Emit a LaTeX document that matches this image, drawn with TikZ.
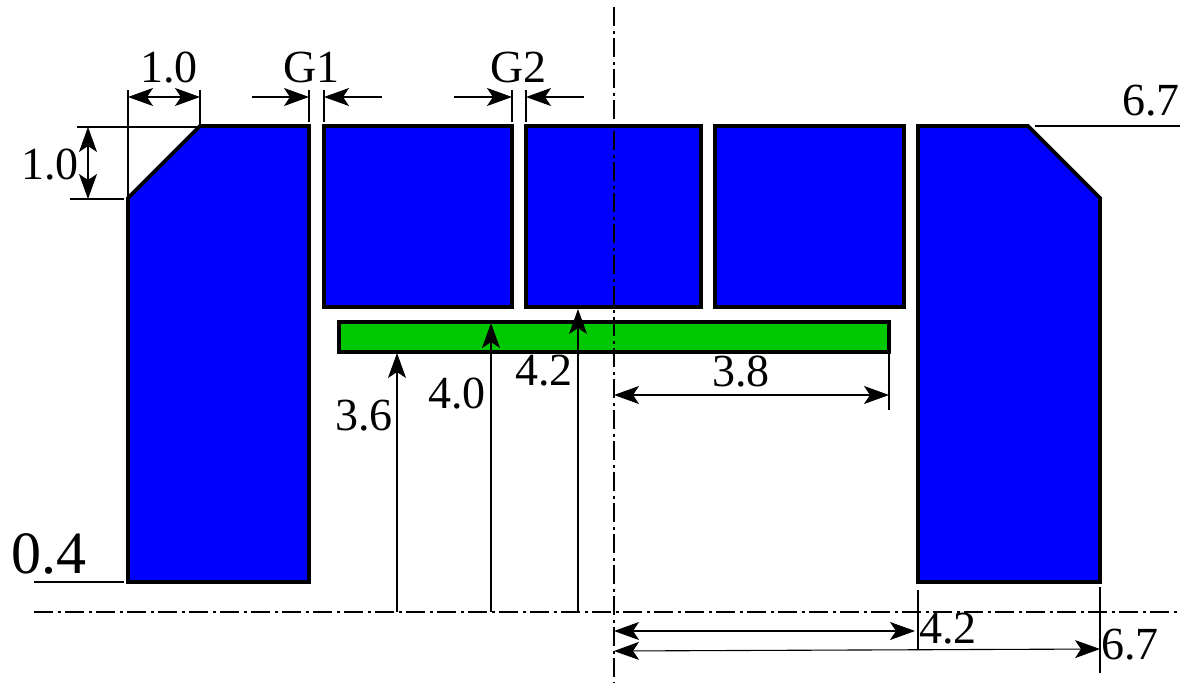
\documentclass[tikz,border=0pt]{standalone}
\usepackage{fontspec}
\setmainfont{Liberation Serif}
\usetikzlibrary{arrows.meta}
\definecolor{blockblue}{RGB}{0,0,255}
\definecolor{blockgreen}{RGB}{0,200,0}
\tikzset{
  block/.style={draw=black,line width=3.6pt,fill=blockblue,miter limit=10},
  strip/.style={draw=black,line width=3.6pt,fill=blockgreen},
  thin line/.style={draw=black,line width=1.1pt},
  centre line/.style={draw=black,line width=1.1pt,dash pattern=on 19pt off 5pt on 2.5pt off 4.5pt},
  dim both/.style={thin line,{Stealth[length=25pt,width=18pt,inset=6pt]}-{Stealth[length=25pt,width=18pt,inset=6pt]}},
  dim end/.style={thin line,-{Stealth[length=25pt,width=18pt,inset=6pt]}},
  label/.style={anchor=base west,inner sep=0pt,outer sep=0pt,font=\fontsize{46}{46}\selectfont},
  biglabel/.style={anchor=base west,inner sep=0pt,outer sep=0pt,font=\fontsize{60}{60}\selectfont}
}
\begin{document}
\begin{tikzpicture}[x=1pt,y=-1pt]
\useasboundingbox (0,0) rectangle (1180,683);
% blocks
\draw[block] (128,198) -- (200,126) -- (309,126) -- (309,582) -- (128,582) -- cycle;
\draw[block] (324,126) rectangle (512,307);
\draw[block] (526,126) rectangle (701,307);
\draw[block] (715,126) rectangle (904,307);
\draw[block] (918,126) -- (1028,126) -- (1100,198) -- (1100,582) -- (918,582) -- cycle;
\draw[strip] (339,322) rectangle (889,352);
% centre lines
\coordinate (ct) at (614,7); \coordinate (cb) at (614,683);
\coordinate (hl) at (34,612); \coordinate (hr) at (1180,612);
\draw[centre line] (ct) -- (cb);
\draw[centre line] (hl) -- (hr);
% extension lines, top left
\coordinate (e1a) at (128,90); \coordinate (e1b) at (128,197);
\coordinate (e2a) at (200,90); \coordinate (e2b) at (200,124);
\coordinate (e3a) at (77,127); \coordinate (e3b) at (200,127);
\coordinate (e4a) at (70,199); \coordinate (e4b) at (124,199);
\draw[thin line] (e1a) -- (e1b);
\draw[thin line] (e2a) -- (e2b);
\draw[thin line] (e3a) -- (e3b);
\draw[thin line] (e4a) -- (e4b);
\coordinate (d1a) at (128,97); \coordinate (d1b) at (200,97);
\draw[dim both] (d1a) -- (d1b);
\coordinate (d2a) at (88,127); \coordinate (d2b) at (88,199);
\draw[dim both] (d2a) -- (d2b);
% gaps
\coordinate (g1a) at (309,90); \coordinate (g1b) at (309,122);
\coordinate (g1c) at (324,90); \coordinate (g1d) at (324,122);
\coordinate (g2a) at (512,90); \coordinate (g2b) at (512,122);
\coordinate (g2c) at (526,90); \coordinate (g2d) at (526,122);
\draw[thin line] (g1a) -- (g1b);
\draw[thin line] (g1c) -- (g1d);
\draw[thin line] (g2a) -- (g2b);
\draw[thin line] (g2c) -- (g2d);
\coordinate (a1) at (252,97); \coordinate (a1t) at (309,97);
\coordinate (a2) at (382,97); \coordinate (a2t) at (324,97);
\coordinate (a3) at (454,97); \coordinate (a3t) at (512,97);
\coordinate (a4) at (584,97); \coordinate (a4t) at (526,97);
\draw[dim end] (a1) -- (a1t);
\draw[dim end] (a2) -- (a2t);
\draw[dim end] (a3) -- (a3t);
\draw[dim end] (a4) -- (a4t);
% right top, left bottom leaders
\coordinate (t1) at (1035,126); \coordinate (t2) at (1180,126);
\coordinate (b1) at (34,582); \coordinate (b2) at (124,582);
\draw[thin line] (t1) -- (t2);
\draw[thin line] (b1) -- (b2);
% vertical dimensions
\coordinate (v1a) at (397,612); \coordinate (v1b) at (397,353);
\coordinate (v2a) at (491,612); \coordinate (v2b) at (491,323);
\coordinate (v3a) at (578,612); \coordinate (v3b) at (578,309);
\draw[dim end] (v1a) -- (v1b);
\draw[dim end] (v2a) -- (v2b);
\draw[dim end] (v3a) -- (v3b);
% 3.8
\coordinate (x1) at (889,352); \coordinate (x2) at (889,410);
\draw[thin line] (x1) -- (x2);
\coordinate (w1) at (614,395); \coordinate (w2) at (889,395);
\draw[dim both] (w1) -- (w2);
% bottom dimensions
\coordinate (y1) at (918,590); \coordinate (y2) at (918,650);
\coordinate (y3) at (1100,587); \coordinate (y4) at (1100,673);
\draw[thin line] (y1) -- (y2);
\draw[thin line] (y3) -- (y4);
\coordinate (z1) at (614,631); \coordinate (z2) at (915,631);
\coordinate (z3) at (614,651); \coordinate (z4) at (1100,649);
\draw[dim both] (z1) -- (z2);
\draw[dim both] (z3) -- (z4);
% labels
\node[label] (l1) at (140,82) {1.0};
\node[label] (l2) at (283,82) {G1};
\node[label] (l3) at (490,82) {G2};
\node[label] (l4) at (21,179) {1.0};
\node[label] (l5) at (1122,115) {6.7};
\node[biglabel] (l6) at (12,573) {0.4};
\node[label] (l7) at (335,430) {3.6};
\node[label] (l8) at (428,408) {4.0};
\node[label] (l9) at (515,385) {4.2};
\node[label] (l10) at (712,386) {3.8};
\node[label] (l11) at (919,643) {4.2};
\node[label] (l12) at (1101,659) {6.7};
\end{tikzpicture}
\end{document}
